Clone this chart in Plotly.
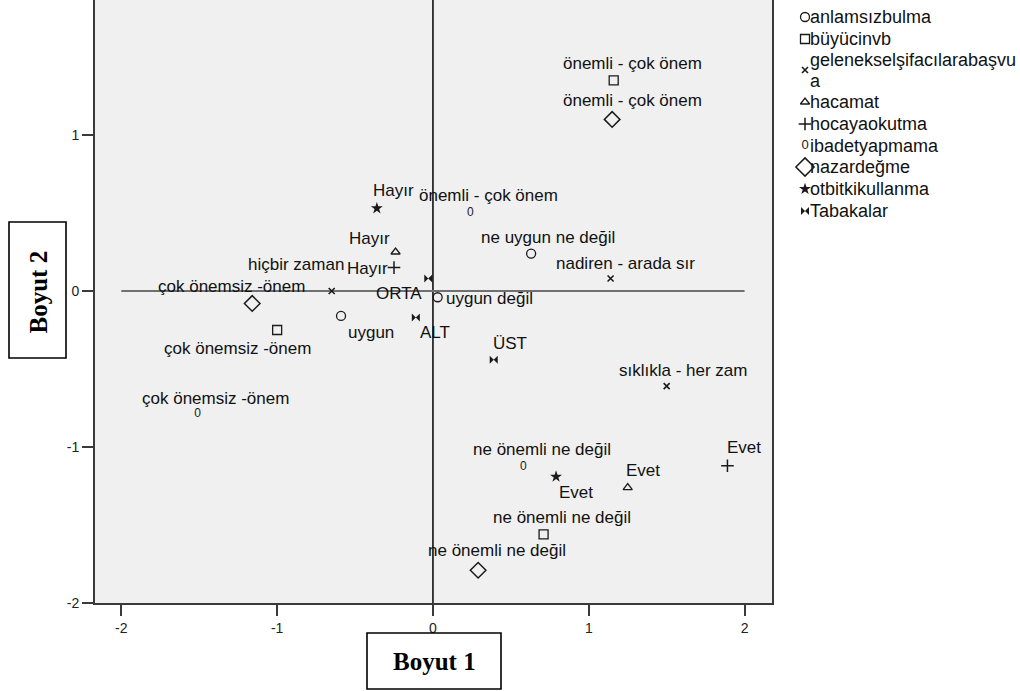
import plotly.graph_objects as go

# ---- category points: dimension 1 / dimension 2 coordinates ----
anlamsiz_labels = ["uygun", "ne uygun ne değil", "uygun değil"]
anlamsiz_d1 = [-0.59, 0.63, 0.03]
anlamsiz_d2 = [-0.16, 0.24, -0.04]

buyu_labels = ["çok önemsiz -önem", "önemli - çok önem", "ne önemli ne değil"]
buyu_d1 = [-1.00, 1.16, 0.71]
buyu_d2 = [-0.25, 1.35, -1.56]

geleneksel_labels = ["hiçbir zaman", "nadiren - arada sır", "sıklıkla - her zam"]
geleneksel_d1 = [-0.65, 1.14, 1.50]
geleneksel_d2 = [0.00, 0.08, -0.61]

hacamat_labels = ["Hayır", "Evet"]
hacamat_d1 = [-0.24, 1.25]
hacamat_d2 = [0.25, -1.26]

hoca_labels = ["Hayır", "Evet"]
hoca_d1 = [-0.25, 1.89]
hoca_d2 = [0.15, -1.12]

ibadet_labels = ["çok önemsiz -önem", "önemli - çok önem", "ne önemli ne değil"]
ibadet_d1 = [-1.51, 0.24, 0.58]
ibadet_d2 = [-0.79, 0.50, -1.13]

nazar_labels = ["çok önemsiz -önem", "önemli - çok önem", "ne önemli ne değil"]
nazar_d1 = [-1.16, 1.15, 0.29]
nazar_d2 = [-0.08, 1.10, -1.79]

otbitki_labels = ["Hayır", "Evet"]
otbitki_d1 = [-0.36, 0.79]
otbitki_d2 = [0.53, -1.19]

tabaka_labels = ["ALT", "ORTA", "ÜST"]
tabaka_d1 = [-0.11, -0.03, 0.39]
tabaka_d2 = [-0.17, 0.08, -0.44]

# legend entries, one list of display lines per variable
legend_lines = [["anlamsızbulma"], ["büyücinvb"], ["gelenekselşifacılarabaşvu", "a"],
                ["hacamat"], ["hocayaokutma"], ["ibadetyapmama"], ["nazardeğme"],
                ["otbitkikullanma"], ["Tabakalar"]]

x_ticks = [-2, -1, 0, 1, 2]
x_tick_text = ["-2", "-1", "0", "1", "2"]
y_ticks = [-2, -1, 0, 1]
y_tick_text = ["-2", "-1", "0", "1"]
x_title = "Boyut 1"
y_title = "Boyut 2"

# ---- layout geometry (pixels) ----
W, H = 1020, 691
ML, MB = 95, 88
PLOT_W = W - ML          # width of the paper area
PLOT_H = H - MB
RIGHT = 772              # right edge of the scatter panel
LEG_X0 = 780             # left edge of the legend panel
X_RANGE = [-2.169, 2.176]
Y_RANGE = [-2.0, 1.8654]

INK = "#1a1a1a"
LABEL_FONT = dict(family="Liberation Sans, Arial, sans-serif", size=17, color="#111111")
LEGEND_FONT = dict(family="Liberation Sans, Arial, sans-serif", size=18, color="#111111")
ZERO_FONT = "Liberation Sans Narrow, Liberation Sans, sans-serif"

series = [
    (anlamsiz_labels, anlamsiz_d1, anlamsiz_d2),
    (buyu_labels, buyu_d1, buyu_d2),
    (geleneksel_labels, geleneksel_d1, geleneksel_d2),
    (hacamat_labels, hacamat_d1, hacamat_d2),
    (hoca_labels, hoca_d1, hoca_d2),
    (ibadet_labels, ibadet_d1, ibadet_d2),
    (nazar_labels, nazar_d1, nazar_d2),
    (otbitki_labels, otbitki_d1, otbitki_d2),
    (tabaka_labels, tabaka_d1, tabaka_d2),
]

# marker style per variable (None -> drawn as a "0" glyph)
marker_styles = [
    dict(symbol="circle-open", size=9, color=INK, line=dict(width=1.3, color=INK)),
    dict(symbol="square-open", size=9, color=INK, line=dict(width=1.3, color=INK)),
    dict(symbol="x-thin-open", size=6, color=INK, line=dict(width=1.6, color=INK)),
    dict(symbol="triangle-up-open", size=8, color=INK, line=dict(width=1.3, color=INK)),
    dict(symbol="cross-thin-open", size=9, color=INK, line=dict(width=1.5, color=INK)),
    None,
    dict(symbol="diamond-open", size=12, color=INK, line=dict(width=1.5, color=INK)),
    dict(symbol="star", size=9, color=INK, line=dict(width=0)),
    dict(symbol="bowtie", size=8, color=INK, line=dict(width=0)),
]

# label placement relative to its point, in pixels (right, down)
DEFAULT_OFFSET = (18, -17)
label_offsets = {
    (0, 0): (30, 17), (0, 1): (17, -16), (0, 2): (52, 1),
    (1, 0): (-40, 18), (1, 1): (19, -17), (1, 2): (18, -17),
    (2, 0): (-36, -27), (2, 1): (15, -15), (2, 2): (16, -16),
    (3, 0): (-26, -14), (3, 1): (15, -17),
    (4, 0): (-27, 1), (4, 1): (17, -18),
    (5, 0): (18, -16), (5, 1): (18, -18), (5, 2): (19, -18),
    (6, 0): (-21, -17), (6, 1): (20, -19), (6, 2): (19, -20),
    (7, 0): (17, -18), (7, 1): (20, 16),
    (8, 0): (19, 15), (8, 1): (-29, 15), (8, 2): (16, -16),
}

fig = go.Figure()
annotations = []

for i, (labels, d1, d2) in enumerate(series):
    style = marker_styles[i]
    if style is None:
        fig.add_trace(go.Scatter(
            x=d1, y=d2, mode="text", text=["0"] * len(d1),
            textfont=dict(family=ZERO_FONT, size=12, color=INK),
            textposition="middle center", hoverinfo="skip",
            xaxis="x", yaxis="y", cliponaxis=False))
    else:
        fig.add_trace(go.Scatter(
            x=d1, y=d2, mode="markers", marker=style, hoverinfo="skip",
            xaxis="x", yaxis="y", cliponaxis=False))
    for j, lab in enumerate(labels):
        dx, dy = label_offsets.get((i, j), DEFAULT_OFFSET)
        annotations.append(dict(
            x=d1[j], y=d2[j], xref="x", yref="y", text=lab, showarrow=False,
            xshift=dx, yshift=-dy, xanchor="center", yanchor="middle",
            font=LABEL_FONT))

# ---- legend panel (pixel coordinates on its own axes) ----
legend_rows = [17, 39, 70, 102, 124, 146, 167, 189, 211]
LEG_MARK_X = 805
LEG_TEXT_X = 809
LINE_GAP = 21
legend_marker_styles = [dict(s) if s else None for s in marker_styles]
legend_marker_styles[6] = dict(symbol="diamond-open", size=14, color=INK,
                               line=dict(width=1.5, color=INK))

for i, lines in enumerate(legend_lines):
    style = legend_marker_styles[i]
    row_y = legend_rows[i]
    if style is None:
        fig.add_trace(go.Scatter(
            x=[LEG_MARK_X], y=[row_y], mode="text", text=["0"],
            textfont=dict(family=ZERO_FONT, size=13, color=INK),
            hoverinfo="skip", xaxis="x2", yaxis="y2", cliponaxis=False))
    else:
        fig.add_trace(go.Scatter(
            x=[LEG_MARK_X], y=[row_y], mode="markers", marker=style,
            hoverinfo="skip", xaxis="x2", yaxis="y2", cliponaxis=False))
    first = row_y - LINE_GAP * (len(lines) - 1) / 2
    for k, txt in enumerate(lines):
        annotations.append(dict(
            x=LEG_TEXT_X, y=first + k * LINE_GAP, xref="x2", yref="y2", text=txt,
            showarrow=False, xanchor="left", yanchor="middle", font=LEGEND_FONT,
            borderpad=0))


def px_x(p):
    return (p - ML) / PLOT_W


def px_y(p):
    return (PLOT_H - p) / PLOT_H


TITLE_FONT = dict(family="Liberation Serif, Times New Roman, serif", size=25, color="#000000")
annotations.append(dict(x=px_x(434), y=px_y(661), xref="paper", yref="paper",
                        text=f"<b>{x_title}</b>", showarrow=False,
                        xanchor="center", yanchor="middle", font=TITLE_FONT))
annotations.append(dict(x=px_x(37.5), y=px_y(292), xref="paper", yref="paper",
                        text=f"<b>{y_title}</b>", showarrow=False, textangle=-90,
                        xanchor="center", yanchor="middle", font=TITLE_FONT))

shapes = [
    # panel background
    dict(type="rect", xref="x domain", yref="y domain", x0=0, x1=1, y0=0, y1=1,
         fillcolor="#F0F0F0", line=dict(width=0), layer="below"),
    # reference lines through the origin
    dict(type="line", xref="x", yref="y", x0=-2, x1=2, y0=0, y1=0,
         line=dict(color="#707070", width=2.2), layer="below"),
    dict(type="line", xref="x", yref="y domain", x0=0, x1=0, y0=0, y1=1,
         line=dict(color="#111111", width=1.6), layer="below"),
    # boxed axis titles
    dict(type="rect", xref="paper", yref="paper",
         x0=px_x(367), x1=px_x(501), y0=px_y(689), y1=px_y(633),
         line=dict(color="#000000", width=1.6), fillcolor="white"),
    dict(type="rect", xref="paper", yref="paper",
         x0=px_x(9), x1=px_x(66), y0=px_y(358), y1=px_y(222),
         line=dict(color="#000000", width=1.6), fillcolor="white"),
]

TICK_FONT = dict(family="Liberation Sans, Arial, sans-serif", size=14, color="#222222")
axis_common = dict(showgrid=False, zeroline=False, showline=True, linewidth=2,
                   linecolor="#3a3a3a", ticks="outside", ticklen=11, tickwidth=1.5,
                   tickcolor="#3a3a3a", tickfont=TICK_FONT, fixedrange=True)

fig.update_layout(
    width=W, height=H,
    margin=dict(l=ML, r=0, t=0, b=MB, pad=0),
    paper_bgcolor="white", plot_bgcolor="white",
    showlegend=False,
    xaxis=dict(domain=[0, (RIGHT - ML) / PLOT_W], range=X_RANGE, tickvals=x_ticks,
               ticktext=x_tick_text, mirror=False, anchor="y", **axis_common),
    yaxis=dict(domain=[0, 1], range=Y_RANGE, tickvals=y_ticks, ticktext=y_tick_text,
               mirror=True, anchor="x", **axis_common),
    xaxis2=dict(domain=[(LEG_X0 - ML) / PLOT_W, 1], range=[LEG_X0, W], visible=False,
                anchor="y2", fixedrange=True),
    yaxis2=dict(domain=[0, 1], range=[PLOT_H, 0], visible=False, anchor="x2",
                fixedrange=True),
    annotations=annotations,
    shapes=shapes,
)

fig.write_html("out.html")
